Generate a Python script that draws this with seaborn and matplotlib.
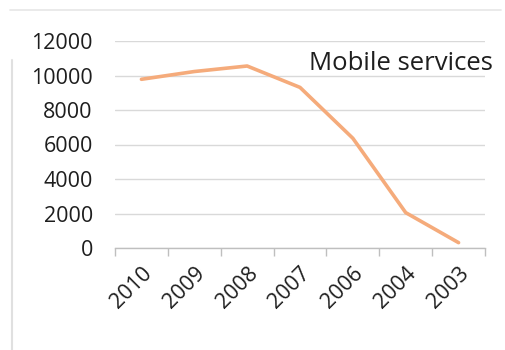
import matplotlib
matplotlib.use("Agg")
import matplotlib.pyplot as plt
import seaborn as sns
import pandas as pd
from matplotlib.ticker import FixedLocator
from matplotlib.lines import Line2D

years = ["2010", "2009", "2008", "2007", "2006", "2004", "2003"]
values = [9780, 10230, 10550, 9310, 6360, 2050, 310]
series_name = "Mobile services"
y_ticks = [0, 2000, 4000, 6000, 8000, 10000, 12000]

df = pd.DataFrame({"year": years, "value": values})

sns.set_theme(style="white")
plt.rcParams["font.family"] = ["Open Sans", "DejaVu Sans"]

fig = plt.figure(figsize=(5.06, 3.5), dpi=100)
fig.patch.set_facecolor("white")
ax = fig.add_axes([115/506, 1-248/350, 370/506, 207/350])

sns.lineplot(data=df, x="year", y="value", sort=False, ax=ax,
             color="#F5AB7B", linewidth=2.6)

ax.set_ylim(0, 12000)
ax.set_xlim(-0.5, len(years) - 0.5)
ax.set_yticks(y_ticks)
ax.set_yticklabels([str(v) for v in y_ticks])
ax.set_xticks(range(len(years)))
ax.set_xticklabels(years, rotation=45, ha="right", rotation_mode="anchor")
ax.xaxis.set_minor_locator(FixedLocator([i - 0.5 for i in range(len(years) + 1)]))
ax.tick_params(axis="x", which="major", length=0, pad=11, labelsize=15.5, colors="#1e1e1e")
ax.tick_params(axis="x", which="minor", length=6, width=1, color="#BFBFBF", direction="out", bottom=True)
ax.tick_params(axis="y", length=0, pad=16, labelsize=15.5, colors="#1e1e1e")

ax.set_xlabel("")
ax.set_ylabel("")
ax.grid(axis="y", color="#D9D9D9", linewidth=1)
ax.set_axisbelow(True)
for s in ["top", "right", "left"]:
    ax.spines[s].set_visible(False)
ax.spines["bottom"].set_color("#BFBFBF")
ax.spines["bottom"].set_linewidth(1)

ax.text(1.02, 0.892, series_name, transform=ax.transAxes, ha="right", va="center",
        fontsize=18.5, color="#1e1e1e")

# faint outer frame lines
fig.add_artist(Line2D([0.02, 0.99], [1-10/350, 1-10/350], color="#E6E6E6", linewidth=1.2, transform=fig.transFigure))
fig.add_artist(Line2D([12/506, 12/506], [0.0, 1-60/350], color="#E0E0E0", linewidth=1.5, transform=fig.transFigure))

fig.savefig("out.png", dpi=100, facecolor="white")
